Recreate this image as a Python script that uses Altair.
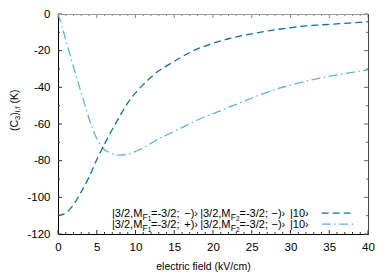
import altair as alt
import pandas as pd

# ---------------- data ----------------
dashed_x = [0, 1, 2, 3, 4, 5, 6, 7, 8, 9, 10, 11, 12, 13, 14, 15, 16, 17, 18, 19, 20,
            22, 24, 26, 28, 30, 32, 34, 36, 38, 40]
dashed_y = [-110, -108.5, -104, -97, -89, -79.5, -71, -63, -55.5, -48.5, -43, -38.5, -34.5,
            -31, -28.3, -25.8, -23.3, -21, -19, -17.5, -16,
            -13.5, -11.6, -10, -8.6, -7.5, -6.5, -5.9, -5.4, -4.8, -4.2]

dashdot_x = [0, 0.5, 1, 1.5, 2, 2.5, 3, 3.5, 4, 4.5, 5, 5.5, 6, 6.5, 7, 8, 9, 10, 11, 12,
             13, 14, 15, 16, 17, 18, 19, 20, 21, 22, 23, 24, 26, 28, 30, 32, 34, 36, 38, 40]
dashdot_y = [0, -6.5, -14, -21.5, -29, -36, -43, -50, -57, -63, -68, -71.5, -74, -75.3,
             -76.2, -77, -76.5, -75, -73, -70.5, -68, -66, -64, -62, -59.8, -57.8, -56,
             -54.4, -52.7, -51, -49.3, -47.6, -44.2, -41.2, -38.8, -36.6, -34.8, -33.2,
             -31.8, -30.5]

x_major = [0, 5, 10, 15, 20, 25, 30, 35, 40]
x_minor = [v for v in range(0, 41) if v % 5 != 0]
y_major = [0, -20, -40, -60, -80, -100, -120]
y_minor = [-10, -30, -50, -70, -90, -110]

x_title = "electric field (kV/cm)"
y_title_parts = [("(C", 0), ("3", 1), (")", 0), ("i,f", 1), ("(K)", 0)]

legend_parts = [
    [("|3/2,M", 0), ("F", 1), ("1", 2), ("=-3/2;", 0), ("−)›", 0), ("|3/2,M", 0),
     ("F", 1), ("2", 2), ("=-3/2;", 0), ("−)›", 0), ("|10›", 0)],
    [("|3/2,M", 0), ("F", 1), ("1", 2), ("=-3/2;", 0), ("+)›", 0), ("|3/2,M", 0),
     ("F", 1), ("2", 2), ("=-3/2;", 0), ("−)›", 0), ("|10›", 0)],
]

# ---------------- layout / style ----------------
FONT = "Liberation Sans"
W, H = 310, 220
PAD_L, PAD_T = 50, 6
C_DASH = "#0b6fb5"
C_DOT = "#56b4e9"
DASH1 = [7, 4]
DASH2 = [9, 3.5, 1.5, 3.5]


def cx(px):
    return px - 8 - PAD_L


def cy(py):
    return py - 8 - PAD_T


# widths of Arial/Liberation Sans glyphs (per 1000 em)
AW = {"(": 333, ")": 333, "C": 722, "3": 556, "i": 222, ",": 278, "f": 278, " ": 278,
      "K": 667}


def tw(s, fs):
    return sum(AW.get(c, 556) for c in s) * fs / 1000.0


xscale = alt.Scale(domain=[0, 40], nice=False, zero=False)
yscale = alt.Scale(domain=[-120, 0], nice=False, zero=False)

xaxis = alt.Axis(values=x_major, ticks=False, tickSize=0, grid=False,
                 domainColor="black", domainWidth=1,
                 labelFont=FONT, labelFontSize=11.5, labelColor="black", labelPadding=7.5,
                 labelFlush=False,
                 title=x_title, titleFont=FONT, titleFontSize=10.5, titleFontWeight="normal",
                 titleColor="black", titleX=145, titleY=35, titleAlign="center",
                 titleBaseline="alphabetic")
yaxis = alt.Axis(values=y_major, ticks=False, tickSize=0, grid=False,
                 domainColor="black", domainWidth=1,
                 labelFont=FONT, labelFontSize=11.5, labelColor="black", labelPadding=8,
                 labelFlush=False,
                 labelExpr="replace(datum.label, '−', '-')", title=None)

X = lambda f: alt.X(f, type="quantitative", scale=xscale, axis=xaxis)
Y = lambda f: alt.Y(f, type="quantitative", scale=yscale, axis=yaxis)

layers = []

df1 = pd.DataFrame({"x": dashed_x, "y": dashed_y})
df2 = pd.DataFrame({"x": dashdot_x, "y": dashdot_y})
layers.append(alt.Chart(df2).mark_line(color=C_DOT, strokeDash=DASH2, strokeWidth=1.3,
                                       interpolate="monotone", clip=True)
              .encode(x=X("x"), y=Y("y")))
layers.append(alt.Chart(df1).mark_line(color=C_DASH, strokeDash=DASH1, strokeWidth=1.3,
                                       interpolate="monotone", clip=True)
              .encode(x=X("x"), y=Y("y")))

# ticks (inward, mirrored)
MAJ, MIN = 4, 2
for vals, ln in ((x_major, MAJ), (x_minor, MIN)):
    d = pd.DataFrame({"x": vals})
    layers.append(alt.Chart(d).mark_rule(color="#333", strokeWidth=1)
                  .encode(x=X("x"), y=alt.value(H), y2=alt.value(H - ln)))
    layers.append(alt.Chart(d).mark_rule(color="#888", strokeWidth=1)
                  .encode(x=X("x"), y=alt.value(0), y2=alt.value(ln)))
for vals, ln in ((y_major, MAJ), (y_minor, MIN)):
    d = pd.DataFrame({"y": vals})
    layers.append(alt.Chart(d).mark_rule(color="#333", strokeWidth=1)
                  .encode(y=Y("y"), x=alt.value(0), x2=alt.value(ln)))
    layers.append(alt.Chart(d).mark_rule(color="#666", strokeWidth=1)
                  .encode(y=Y("y"), x=alt.value(W), x2=alt.value(W - ln)))

# top and right border
layers.append(alt.Chart(pd.DataFrame({"a": [0]})).mark_rule(color="#999", strokeWidth=1)
              .encode(x=alt.value(0), x2=alt.value(W + 1), y=alt.value(0.5)))
layers.append(alt.Chart(pd.DataFrame({"a": [0]})).mark_rule(color="#444", strokeWidth=1)
              .encode(x=alt.value(W + 0.5), y=alt.value(0), y2=alt.value(H + 1)))

# y-axis title, rotated, with subscripts
LEVEL = {0: (10.5, 0.0), 1: (7.5, 2.6), 2: (6.0, 4.3)}
ypos = 131
base_x = 17.5
for i, (t, lv) in enumerate(y_title_parts):
    fs, off = LEVEL[lv]
    if i == len(y_title_parts) - 1:
        ypos -= tw(" ", 10.5)
    layers.append(alt.Chart(pd.DataFrame({"t": [t]}))
                  .mark_text(align="left", baseline="alphabetic", angle=270, font=FONT,
                             fontSize=fs, color="black")
                  .encode(x=alt.value(cx(base_x + off)), y=alt.value(cy(ypos)), text="t:N"))
    ypos -= tw(t, fs)

# legend
LLEVEL = {0: (11.0, 0.0), 1: (8.5, 2.7), 2: (6.5, 4.4)}
anchors = [(142.3, "right"), (142.5, "left"), (147.7, "left"), (151.0, "left"),
           (198.0, "right"), (230.5, "right"), (230.7, "left"), (235.9, "left"),
           (239.5, "left"), (271.5, "left"), (290.0, "left")]
row_base = [217, 228]
for r, parts in enumerate(legend_parts):
    for (t, lv), (ax, al) in zip(parts, anchors):
        fs, off = LLEVEL[lv]
        layers.append(alt.Chart(pd.DataFrame({"t": [t]}))
                      .mark_text(align=al, baseline="alphabetic", font=FONT, fontSize=fs,
                                 color="black")
                      .encode(x=alt.value(cx(ax)), y=alt.value(cy(row_base[r] + off)),
                              text="t:N"))

# legend samples
for r, (col, dash) in enumerate(((C_DASH, DASH1), (C_DOT, DASH2))):
    yc = row_base[r] - 3.8
    layers.append(alt.Chart(pd.DataFrame({"a": [0]}))
                  .mark_rule(color=col, strokeDash=dash, strokeWidth=1.3)
                  .encode(x=alt.value(cx(321.7)), x2=alt.value(cx(354)),
                          y=alt.value(cy(yc))))

chart = (alt.layer(*layers)
         .properties(width=W, height=H,
                     autosize=alt.AutoSizeParams(type="none"),
                     padding={"left": PAD_L, "top": PAD_T, "right": 12, "bottom": 40})
         .configure_view(stroke=None)
         .configure(background="white"))

chart.save("out.html", embed_options={"renderer": "svg", "actions": False})
